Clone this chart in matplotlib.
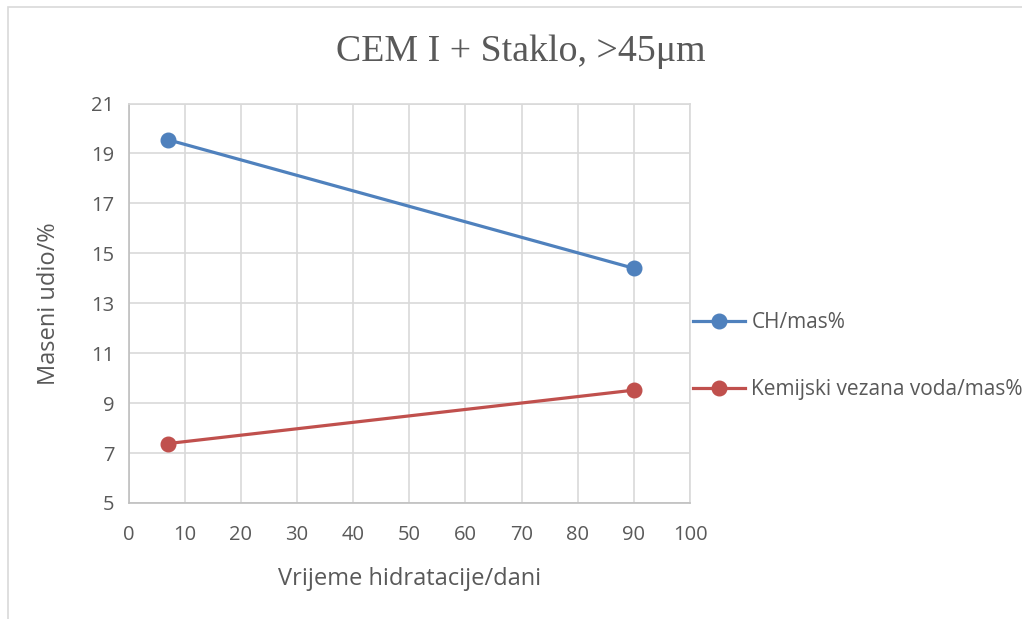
import matplotlib.pyplot as plt
from matplotlib.patches import Rectangle

# podaci
dani = [7, 90]
ch_mas = [19.55, 14.4]
voda_mas = [7.38, 9.52]
serije = ["CH/mas%", "Kemijski vezana voda/mas%"]

plt.rcParams['font.family'] = ['Open Sans', 'DejaVu Sans']

fig = plt.figure(figsize=(10.22, 6.19), dpi=100)
ax = fig.add_axes([128.5/1022, 1 - 503/619, (690 - 128.5)/1022, (503 - 103.5)/619])

# okvir grafikona
fig.patches.append(Rectangle((8/1022, -0.05), 1.1, 1 - 7/619 + 0.05,
                             transform=fig.transFigure, fill=False,
                             edgecolor='#D9D9D9', linewidth=1.2))

ax.plot(dani, ch_mas, color='#4F81BD', linewidth=2.3, marker='o',
        markersize=10.5, label=serije[0])
ax.plot(dani, voda_mas, color='#C0504D', linewidth=2.3, marker='o',
        markersize=10.5, label=serije[1])

ax.set_xlim(0, 100)
ax.set_ylim(5, 21)
ax.set_xticks(range(0, 101, 10))
ax.set_yticks(range(5, 22, 2))
ax.grid(True, color='#D9D9D9', linewidth=1.2)
ax.set_axisbelow(True)
for s in ax.spines.values():
    s.set_color('#D9D9D9')
    s.set_linewidth(1.2)
ax.spines['left'].set_color('#BFBFBF')
ax.spines['bottom'].set_color('#BFBFBF')
ax.tick_params(length=0, labelsize=14.5, labelcolor='#595959')
ax.tick_params(axis='x', pad=16)
ax.tick_params(axis='y', pad=10)

ax.set_xlabel("Vrijeme hidratacije/dani", fontsize=17, color='#595959', labelpad=16)
ax.set_ylabel("Maseni udio/%", fontsize=17, color='#595959', labelpad=22)
fig.text(0.51, 1 - 52/619, "CEM I + Staklo, >45μm", family='Liberation Serif',
         fontsize=27.3, color='#595959', ha='center', va='center')

ax.legend(loc='center left', bbox_to_anchor=(1.0, 0.368), frameon=False,
          fontsize=15, labelcolor='#595959', handlelength=2.5,
          handletextpad=0.3, labelspacing=2.2, borderpad=0, borderaxespad=0.15)

plt.savefig("out.png", dpi=100)
